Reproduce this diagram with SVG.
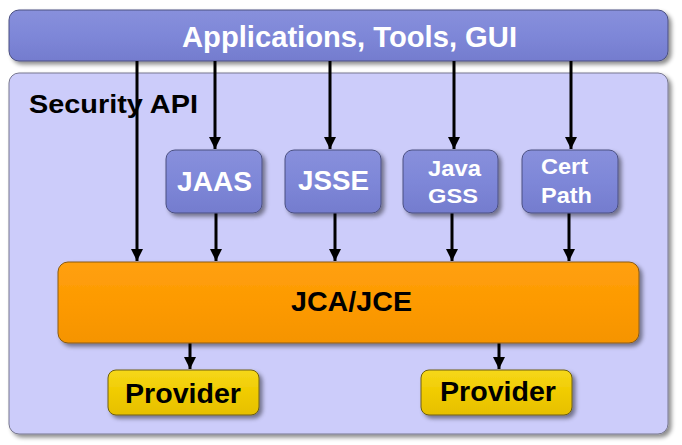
<svg xmlns="http://www.w3.org/2000/svg" width="682" height="445" viewBox="0 0 682 445">
<style>
.t{font-family:"Liberation Sans",Arial,sans-serif;font-weight:bold}
.w{fill:#fff}
.k{fill:#000}
.c{stroke:#000;stroke-width:3;fill:none}
.blue{fill:url(#gb);stroke:#4a4f80;stroke-width:1}
</style>
<defs>
<filter id="sh" x="-10%" y="-10%" width="130%" height="140%">
<feDropShadow dx="3" dy="3" stdDeviation="2" flood-color="#000" flood-opacity="0.45"/>
</filter>
<linearGradient id="gb" x1="0" y1="0" x2="0" y2="1">
<stop offset="0" stop-color="#8890dc"/>
<stop offset="0.5" stop-color="#7e87d8"/>
<stop offset="1" stop-color="#747cce"/>
</linearGradient>
<linearGradient id="go" x1="0" y1="0" x2="0" y2="1">
<stop offset="0" stop-color="#ffa010"/>
<stop offset="0.5" stop-color="#fd9a00"/>
<stop offset="1" stop-color="#f59400"/>
</linearGradient>
<linearGradient id="gy" x1="0" y1="0" x2="0" y2="1">
<stop offset="0" stop-color="#f6d81a"/>
<stop offset="0.5" stop-color="#f0cb00"/>
<stop offset="1" stop-color="#e6c000"/>
</linearGradient>
<marker id="ah" markerWidth="4" markerHeight="4" refX="4" refY="2" orient="auto" markerUnits="strokeWidth">
<path d="M0,0 L4,2 L0,4 Z" fill="#000"/>
</marker>
</defs>
<g id="panel">
<rect x="9" y="73" width="659" height="361" rx="10" fill="#ccccfa" stroke="#77778f" stroke-width="1" filter="url(#sh)"/>
<text class="t k" x="29" y="113" font-size="25" textLength="169" lengthAdjust="spacingAndGlyphs">Security API</text>
</g>
<g id="apps">
<rect class="blue" x="9" y="10" width="659" height="51" rx="10" filter="url(#sh)"/>
<text class="t w" x="182" y="47" font-size="29" textLength="335" lengthAdjust="spacingAndGlyphs">Applications, Tools, GUI</text>
</g>
<g id="connectors">
<line class="c" x1="137" y1="61" x2="137" y2="261" marker-end="url(#ah)"/>
<line class="c" x1="215" y1="61" x2="215" y2="149" marker-end="url(#ah)"/>
<line class="c" x1="330" y1="61" x2="330" y2="149" marker-end="url(#ah)"/>
<line class="c" x1="454" y1="61" x2="454" y2="149" marker-end="url(#ah)"/>
<line class="c" x1="571" y1="61" x2="571" y2="149" marker-end="url(#ah)"/>
<line class="c" x1="216" y1="213" x2="216" y2="261" marker-end="url(#ah)"/>
<line class="c" x1="335" y1="213" x2="335" y2="261" marker-end="url(#ah)"/>
<line class="c" x1="452" y1="213" x2="452" y2="261" marker-end="url(#ah)"/>
<line class="c" x1="569" y1="213" x2="569" y2="261" marker-end="url(#ah)"/>
<line class="c" x1="190" y1="343" x2="190" y2="369" marker-end="url(#ah)"/>
<line class="c" x1="499" y1="343" x2="499" y2="369" marker-end="url(#ah)"/>
</g>
<g id="jaas">
<rect class="blue" x="166" y="150" width="96" height="63" rx="9" filter="url(#sh)"/>
<text class="t w" x="177" y="191" font-size="27" textLength="75" lengthAdjust="spacingAndGlyphs">JAAS</text>
</g>
<g id="jsse">
<rect class="blue" x="285" y="150" width="96" height="63" rx="9" filter="url(#sh)"/>
<text class="t w" x="298" y="190" font-size="27" textLength="71" lengthAdjust="spacingAndGlyphs">JSSE</text>
</g>
<g id="javagss">
<rect class="blue" x="403" y="150" width="95" height="63" rx="9" filter="url(#sh)"/>
<text class="t w" x="428" y="176" font-size="22" textLength="53" lengthAdjust="spacingAndGlyphs">Java</text>
<text class="t w" x="428" y="203" font-size="21" textLength="50" lengthAdjust="spacingAndGlyphs">GSS</text>
</g>
<g id="certpath">
<rect class="blue" x="522" y="150" width="96" height="63" rx="9" filter="url(#sh)"/>
<text class="t w" x="541" y="174" font-size="22" textLength="47" lengthAdjust="spacingAndGlyphs">Cert</text>
<text class="t w" x="541" y="203" font-size="22" textLength="51" lengthAdjust="spacingAndGlyphs">Path</text>
</g>
<g id="jca">
<rect x="58" y="262" width="581" height="81" rx="10" fill="url(#go)" stroke="#8a5a10" stroke-width="1" filter="url(#sh)"/>
<text class="t k" x="291" y="311" font-size="27" textLength="121" lengthAdjust="spacingAndGlyphs">JCA/JCE</text>
</g>
<g id="provider1">
<rect x="108" y="370" width="151" height="45" rx="8" fill="url(#gy)" stroke="#6e5e10" stroke-width="1" filter="url(#sh)"/>
<text class="t k" x="125" y="403" font-size="27" textLength="116" lengthAdjust="spacingAndGlyphs">Provider</text>
</g>
<g id="provider2">
<rect x="421" y="370" width="151" height="45" rx="8" fill="url(#gy)" stroke="#6e5e10" stroke-width="1" filter="url(#sh)"/>
<text class="t k" x="440" y="401" font-size="27" textLength="116" lengthAdjust="spacingAndGlyphs">Provider</text>
</g>
</svg>
